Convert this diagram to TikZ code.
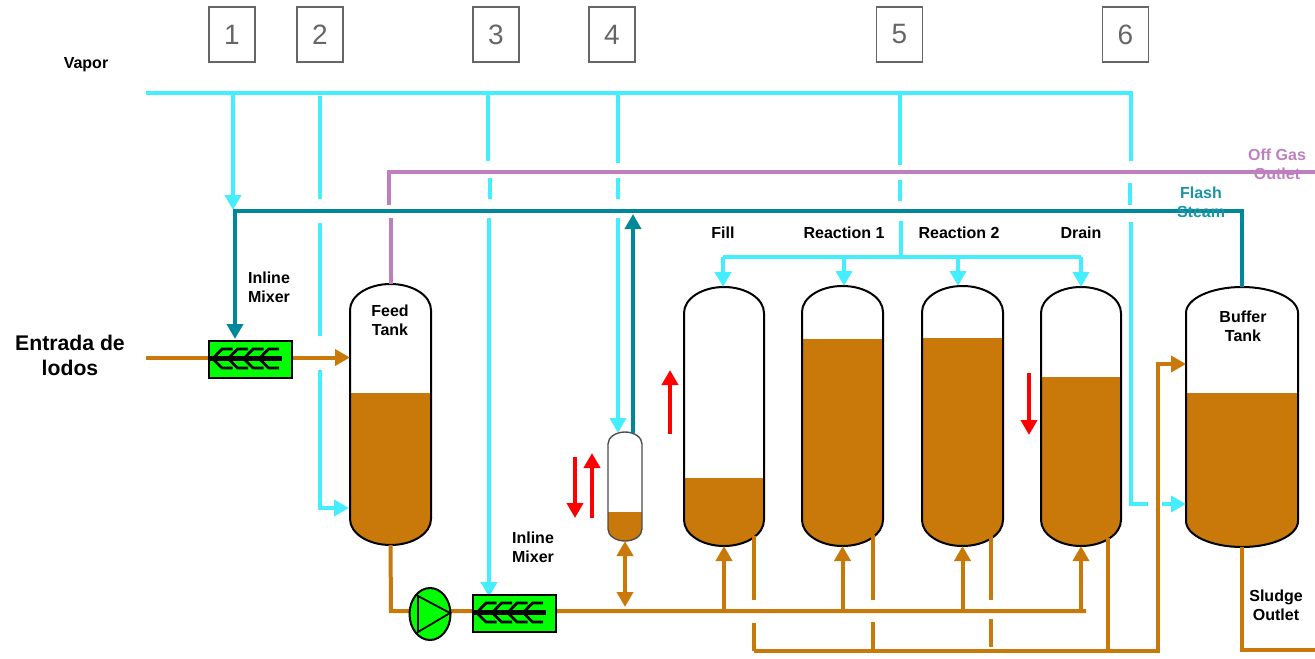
\documentclass[tikz,border=0pt]{standalone}
\usepackage{fontspec}
\setmainfont{Liberation Sans}
\usetikzlibrary{arrows.meta,positioning,shapes.geometric}
\definecolor{cvapor}{HTML}{44EEFF}
\definecolor{clodo}{HTML}{C8790A}
\definecolor{cflash}{HTML}{00889A}
\definecolor{cgas}{HTML}{BF7FBF}
\definecolor{cverde}{HTML}{00FF00}
\definecolor{ccaja}{HTML}{666666}
\tikzset{
  punta/.style={-{Triangle[length=7.5pt,width=8pt]}},
  vap/.style={draw=cvapor,line width=2pt},
  vapf/.style={vap,punta},
  lodo/.style={draw=clodo,line width=2pt},
  lodof/.style={lodo,punta},
  flash/.style={draw=cflash,line width=2.25pt,punta},
  gas/.style={draw=cgas,line width=2pt},
  rojo/.style={draw=red,line width=2pt,punta},
  et/.style={font=\fontsize{8}{9.5}\selectfont\bfseries,align=center,inner sep=0pt},
  caja/.style={draw=ccaja,text=ccaja,line width=0.6pt,minimum width=23pt,minimum height=27.5pt,
               inner sep=0pt,font=\fontsize{14}{14}\selectfont},
  tanquebox/.style={inner sep=0pt,outer sep=0pt},
  mezcla/.style={draw=black,fill=cverde,line width=0.8pt,minimum width=41.5pt,minimum height=18.5pt,
                 inner sep=0pt,outer sep=0pt},
}
% [casquete]{nombre}{izq}{der}{arriba}{abajo}{nivel}
\newcommand{\tanque}[6][26]{%
  \node[tanquebox,minimum width={(#4-#3)*0.5pt},minimum height={(#6-#5)*0.5pt}] (#2) at ({(#3+#4)/2},{(#5+#6)/2}) {};
}
\newcommand{\cuerpo}[7][26]{%
  \def\perfil{(#3,#5+#1) arc[start angle=180,end angle=360,x radius={(#4-#3)/2},y radius=#1]
    -- (#4,#6-#1) arc[start angle=0,end angle=180,x radius={(#4-#3)/2},y radius=#1] -- cycle}
  \fill[white] \perfil;
  \begin{scope}
    \clip \perfil;
    \fill[clodo] (#3,#7) rectangle (#4,#6);
  \end{scope}
  \draw[#2] \perfil;
}
\newcommand{\mezclador}[3]{%
  \node[mezcla] (#1) at (#2,#3) {};
  \begin{scope}[shift={(#2,#3)}]
    \draw[line width=2.5pt] (-41.5,-0.8) -- (31.5,-0.8);
    \foreach \d in {0,15.5,31,46.5}{
      \draw[line width=1.4pt] (-17.8+\d,-10.5) -- (-28.5+\d,-10.5) -- (-37.8+\d,-0.8) -- (-28.5+\d,8.5) -- (-17.8+\d,8.5);
    }
  \end{scope}
}

\begin{document}
\begin{tikzpicture}[x=0.5pt,y=-0.5pt]
\useasboundingbox (0,0) rectangle (1315,658);

\tanque{feed}{350}{431}{284}{545}
\tanque{fill}{684}{764}{287}{546}
\tanque{r1}{802}{883}{286}{546}
\tanque{r2}{922}{1003}{286}{546}
\tanque{drain}{1041}{1121}{287}{546}
\tanque{buffer}{1186}{1298}{287}{547}
\tanque[12]{tan}{608}{642}{432}{541}

\cuerpo{draw=black,line width=1pt}{350}{431}{284}{545}{393}
\cuerpo{draw=black,line width=1pt}{684}{764}{287}{546}{478}
\cuerpo{draw=black,line width=1pt}{802}{883}{286}{546}{339}
\cuerpo{draw=black,line width=1pt}{922}{1003}{286}{546}{338}
\cuerpo{draw=black,line width=1pt}{1041}{1121}{287}{546}{377}
\cuerpo{draw=black,line width=1pt}{1186}{1298}{287}{547}{393}
\cuerpo[12]{draw=black!70,line width=0.7pt}{608}{642}{432}{541}{512}

% vapor
\coordinate (vini) at (146,93);
\coordinate (vfin) at (1131,93);
\coordinate (v6a) at (1131,161);
\draw[vap] (vini) -- (vfin) -- (v6a);
\foreach \n/\x/\a/\b in {v2a/320/96/199,v2b/320/223/336,v3a/488/93/161,v3b/490/178/199,
    v4a/618/93/163,v4b/618/178/199,v5a/900/95/165,v5b/900/180/201,v5c/901/221/257,v6b/1130/183/205}{
  \coordinate (\n i) at (\x,\a);
  \coordinate (\n f) at (\x,\b);
  \draw[vap] (\n i) -- (\n f);
}
\coordinate (v1i) at (233,93);
\coordinate (v1f) at (233,210);
\draw[vapf] (v1i) -- (v1f);
\coordinate (v2c) at (320,370);
\coordinate (v2d) at (349,508);
\draw[vapf] (v2c) |- (v2d);
\coordinate (v3c) at (489,218);
\coordinate (v3d) at (489,597);
\draw[vapf] (v3c) -- (v3d);
\coordinate (v4c) at (618,218);
\coordinate (v4d) at (618,433);
\draw[vapf] (v4c) -- (v4d);
\coordinate (v6c) at (1131,222);
\coordinate (v6d) at (1148,504);
\draw[vap] (v6c) |- (v6d);
\coordinate (v6e) at (1162,504);
\draw[vapf] (v6e) -- (v6e -| buffer.west);
\coordinate (rami) at (723,257);
\coordinate (ramf) at (1081,257);
\draw[vap] (rami) -- (ramf);
\foreach \n/\x in {fill/723,r1/844,r2/958,drain/1081}{
  \coordinate (ll\n) at (\x,257);
  \draw[vapf] (ll\n) -- (ll\n |- \n.north);
}

% off gas
\coordinate (ga) at (390.5,218);
\coordinate (gb) at (388.5,205);
\coordinate (gc) at (388.5,172);
\coordinate (gd) at (1315,172);
\draw[gas] (feed.north) -- (ga);
\draw[gas] (gb) -- (gc) -- (gd);

% flash
\coordinate (tini) at (235,211);
\coordinate (tmez) at (235,339);
\draw[flash] (buffer.north) |- (tini) -- (tmez);
\coordinate (tsal) at (633,433);
\coordinate (tlle) at (633,214);
\draw[flash] (tsal) -- (tlle);

% lodos
\coordinate (lin) at (391,611);
\coordinate (linf) at (1086,611);
\draw[lodo] (feed.south) -- (lin) -- (linf);
\coordinate (ent) at (146,357.5);
\draw[lodof] (ent) -- (ent -| feed.west);
\foreach \n in {fill,r1,r2,drain}{
  \draw[lodof] (\n.south |- lin) -- (\n.south);
}
\coordinate (dobl) at (625,607);
\draw[lodo,{Triangle[length=7.5pt,width=8pt]}-{Triangle[length=7.5pt,width=8pt]}] (tan.south) -- (dobl);
\foreach \n/\x/\a/\b/\c/\d in {s1/754/536/600/623/651,s2/873/535/600/622/651,s3/991/535/600/619/647}{
  \coordinate (\n a) at (\x,\a);
  \coordinate (\n b) at (\x,\b);
  \coordinate (\n c) at (\x,\c);
  \coordinate (\n d) at (\x,\d);
  \draw[lodo] (\n a) -- (\n b);
  \draw[lodo] (\n c) -- (\n d);
}
\coordinate (s4a) at (1108,538);
\coordinate (bini) at (754,651);
\coordinate (bsub) at (1158,364);
\draw[lodo] (s4a) -- (s4a |- bini);
\draw[lodof] (bini) -| (bsub) -- (bsub -| buffer.west);
\coordinate (lsal) at (1315,650);
\draw[lodo] (buffer.south) |- (lsal);

% rojas
\foreach \n/\x/\a/\b in {f1/670/434/370,f2/575/457/518,f3/592/518/453,f4/1029/373/435}{
  \coordinate (\n i) at (\x,\a);
  \coordinate (\n f) at (\x,\b);
  \draw[rojo] (\n i) -- (\n f);
}

\mezclador{mez1}{250.5}{359.5}
\mezclador{mez2}{514.5}{613.5}
\node[ellipse,draw=black,fill=cverde,line width=1pt,minimum width=20.5pt,minimum height=26pt,inner sep=0pt] (bomba) at (430,614) {};
\draw[line width=0.9pt] (418,596) -- (450,613) -- (418,632) -- cycle;

\foreach \n/\x/\t in {c1/232/1,c2/320/2,c3/496/3,c4/612/4,c5/899.5/5,c6/1125.5/6}{
  \node[caja] (\n) at (\x,34.5) {\t};
}

\node[et] (evap) at (86,65) {Vapor};
\node[et,font=\fontsize{10.6}{12.5}\selectfont\bfseries] (eent) at (70,355) {Entrada de\\lodos};
\node[et] (emez1) at (269,287) {Inline\\Mixer};
\node[et] (emez2) at (533,547) {Inline\\Mixer};
\node[et] (efeed) at (390,320) {Feed\\Tank};
\node[et] (ebuf) at (1243,326) {Buffer\\Tank};
\node[et] (efill) at (723,233) {Fill};
\node[et] (er1) at (844,233) {Reaction 1};
\node[et] (er2) at (959,233) {Reaction 2};
\node[et] (edr) at (1081,233) {Drain};
\node[et] (eslu) at (1276,605) {Sludge\\Outlet};
\node[et,text=cgas] (egas) at (1277,164) {Off Gas\\Outlet};
\node[et,text=cflash!90!white] (efla) at (1201,202) {Flash\\Steam};

\end{tikzpicture}
\end{document}
